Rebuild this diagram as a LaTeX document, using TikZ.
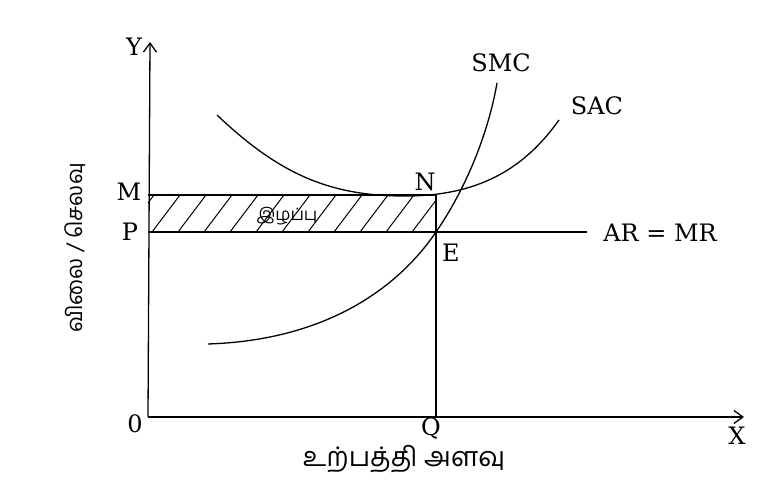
\documentclass[tikz,border=0pt]{standalone}
\usepackage{fontspec}
\setmainfont{DejaVu Serif}
\newfontfamily\tamilfont[Script=Tamil]{Hind Madurai}
\usetikzlibrary{arrows.meta,positioning}

\begin{document}
\begin{tikzpicture}[x=1pt,y=1pt,
  ax/.style={-{Straight Barb[length=9pt,width=13pt]},line width=1.3pt},
  ln/.style={line width=1.2pt},
  crv/.style={line width=1.3pt},
  hatch/.style={line width=1pt},
  lbl/.style={font=\fontsize{24}{28}\selectfont,inner sep=0pt},
  tlbl/.style={font=\fontsize{22}{26}\selectfont\tamilfont,inner sep=0pt}
]
  \fill[white] (0,0) rectangle (777,495);
  \useasboundingbox (0,0) rectangle (777,495);
  % key points
  \coordinate (O) at (148,78);
  \coordinate (ytop) at (150,453);
  \coordinate (xend) at (744,78);
  \coordinate (M) at (148,300);
  \coordinate (P) at (148,263);
  \coordinate (N) at (436,300);
  \coordinate (E) at (436,263);
  \coordinate (Q) at (436,78);
  \coordinate (arend) at (587,263);
  % loss area
  \begin{scope}
    \clip (P) rectangle (N);
    \foreach \x in {100,126,...,460}
      \draw[hatch] (\x,263) -- ++(28,37);
  \end{scope}
  \draw[ln] (M) -- (N) -- (Q);
  \draw[ln] (P) -- (arend);
  \draw[ax] (O) -- (ytop);
  \draw[ax] (O) -- (xend);
  % cost curves
  \draw[crv] (208,151) .. controls (330,155) and (400,210) .. (E)
    .. controls (465,305) and (488,360) .. (497,412);
  \draw[crv] (217,380) .. controls (280,320) and (330,300) .. (400,299)
    .. controls (470,298) and (520,320) .. (559,375);
  % labels
  \node[lbl] (ylab) at (134,448) {Y};
  \node[lbl] (xlab) at (737,59) {X};
  \node[lbl] (olab) at (135,71) {0};
  \node[lbl] (qlab) at (431,66) {Q};
  \node[lbl] (mlab) at (129,303) {M};
  \node[lbl] (plab) at (130,263) {P};
  \node[lbl] (nlab) at (425,313) {N};
  \node[lbl] (elab) at (451,242) {E};
  \node[lbl] (smclab) at (501,432) {SMC};
  \node[lbl] (saclab) at (597,389) {SAC};
  \node[lbl] (arlab) at (660,262) {AR = MR};
  \node[tlbl,font=\fontsize{17}{20}\selectfont\tamilfont] (loss) at (287,279) {இழப்பு};
  \node[tlbl,rotate=90] (costlab) at (75,247) {விலை / செலவு};
  \node[tlbl,font=\fontsize{27}{30}\selectfont\tamilfont] (qtylab) at (404,36) {உற்பத்தி அளவு};
\end{tikzpicture}
\end{document}
